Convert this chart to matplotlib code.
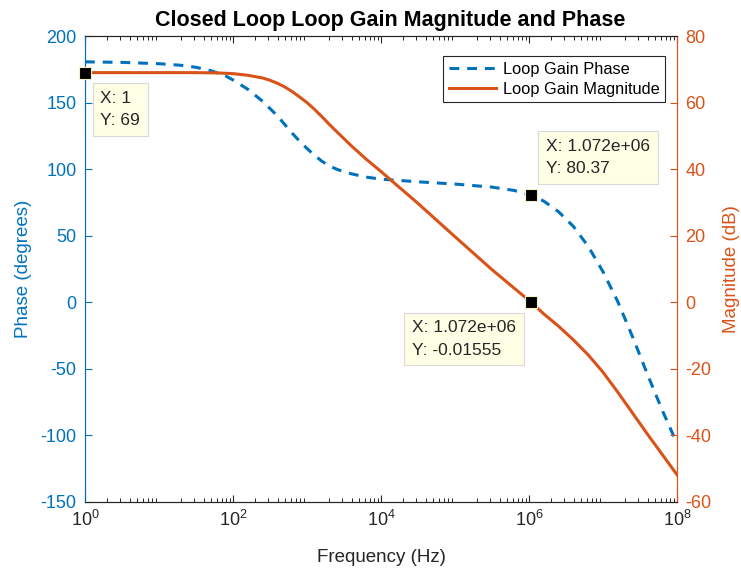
import numpy as np
import matplotlib
matplotlib.use("Agg")
import matplotlib.pyplot as plt

plt.rcParams['font.family'] = ['Liberation Sans', 'DejaVu Sans']
plt.rcParams['mathtext.fontset'] = 'custom'
plt.rcParams['mathtext.rm'] = 'Liberation Sans'
plt.rcParams['mathtext.it'] = 'Liberation Sans'
plt.rcParams['axes.unicode_minus'] = False

# log10(frequency in Hz) and loop gain phase in degrees
phase_logf = [0.0, 0.5, 1.0, 1.3, 1.5, 1.7, 1.8, 1.9, 2.0, 2.1, 2.2, 2.3, 2.4, 2.5,
              2.6, 2.7, 2.8, 2.9, 3.0, 3.1, 3.2, 3.3, 3.4, 3.5, 3.6, 3.8, 4.0,
              4.5, 5.0, 5.5, 5.8, 6.03, 6.2, 6.4, 6.6, 6.8, 7.0, 7.2, 7.4, 7.6,
              7.8, 8.0]
phase_deg = [180.6, 180.2, 179.2, 178.0, 176.5, 174.0, 172.0, 170.0, 167.0, 163.5,
             160.0, 155.5, 151.0, 145.5, 140.0, 133.5, 127.0, 121.0, 115.5, 110.5,
             106.0, 102.5, 100.0, 98.0, 96.5, 94.0, 92.5,
             90.5, 88.8, 86.5, 84.0, 80.37, 76.0, 68.0, 57.0, 42.0, 23.0, 0.5,
             -26.0, -54.0, -81.0, -106.0]

# log10(frequency in Hz) and loop gain magnitude in dB
mag_logf = [0.0, 0.5, 1.0, 1.5, 1.8, 2.0, 2.2, 2.4, 2.5, 2.6, 2.7, 2.8, 2.9, 3.0,
            3.1, 3.2, 3.3, 3.4, 3.6, 3.8, 4.0, 4.5, 5.0, 5.5, 6.03, 6.2, 6.4,
            6.6, 6.8, 7.0, 7.2, 7.4, 7.6, 7.8, 8.0]
mag_db = [69.0, 69.0, 69.0, 69.0, 68.9, 68.7, 68.2, 67.4, 66.7, 65.8, 64.7, 63.3,
          61.7, 60.0, 58.0, 55.8, 53.5, 51.3, 47.0, 43.0, 39.3, 29.7, 19.7, 9.8,
          -0.01555, -3.5, -7.2, -11.3, -15.8, -21.0, -27.0, -33.3, -39.6, -45.7,
          -51.8]

# data tips: (frequency, value)
tip_phase = (1.072e6, 80.37)
tip_mag_hi = (1, 69)
tip_mag_cross = (1.072e6, -0.01555)

blue = '#0072BD'
orange = '#D95319'
dark = '#262626'

fig = plt.figure(figsize=(7.41, 5.69), dpi=100)
ax = fig.add_axes([0.1147, 0.1178, 0.7989, 0.8189])
ax2 = ax.twinx()

l1, = ax.semilogx(10 ** np.array(phase_logf), phase_deg, color=blue, lw=2.2,
                  ls=(0, (3.2, 2.6)))
l2, = ax2.semilogx(10 ** np.array(mag_logf), mag_db, color=orange, lw=2.2)

ax.set_xlim(1, 1e8)
ax.set_ylim(-150, 200)
ax2.set_ylim(-60, 80)
ax.set_yticks(np.arange(-150, 201, 50))
ax2.set_yticks(np.arange(-60, 81, 20))
ax.set_xticks([1, 1e2, 1e4, 1e6, 1e8])

ax.tick_params(axis='both', which='both', direction='in', top=True, labelsize=13)
ax.tick_params(axis='x', colors=dark, pad=6)
ax.tick_params(axis='y', colors=blue, length=5, pad=6)
ax2.tick_params(axis='y', colors=orange, direction='in', length=5, pad=6,
                labelsize=13)
ax.tick_params(axis='x', which='major', length=5)
ax.tick_params(axis='x', which='minor', length=3)

for a in (ax, ax2):
    a.spines['top'].set_color(dark)
    a.spines['bottom'].set_color(dark)
    a.spines['left'].set_color(blue)
    a.spines['right'].set_color(orange)

ax.set_xlabel('Frequency (Hz)', fontsize=13.5, color=dark)
ax.set_ylabel('Phase (degrees)', fontsize=13.5, color=blue)
ax2.set_ylabel('Magnitude (dB)', fontsize=13.5, color=orange)
ax.xaxis.set_label_coords(0.5, -0.1)
ax.yaxis.set_label_coords(-0.09, 0.5)
ax2.yaxis.set_label_coords(1.077, 0.5)
ax.set_title('Closed Loop Loop Gain Magnitude and Phase', fontsize=15.5,
             fontweight='bold', color='black', pad=7, x=0.515)

leg = ax2.legend([l1, l2], ['Loop Gain Phase', 'Loop Gain Magnitude'],
                 loc='upper right', bbox_to_anchor=(0.98, 0.957), fontsize=11.8,
                 fancybox=False, edgecolor=dark, framealpha=1, handlelength=2.9,
                 borderpad=0.35, labelspacing=0.3, handletextpad=0.4,
                 borderaxespad=0)
leg.get_frame().set_linewidth(0.8)


def tip(xy, trans, text, offset, ha, va):
    ax2.plot(xy[0], xy[1], marker='s', ms=8.5, color='black', mec='#F4F0C8',
             mew=0.8, transform=trans, zorder=6, clip_on=False)
    ax2.annotate(text, xy=xy, xycoords=trans, xytext=offset,
                 textcoords='offset pixels', ha=ha, va=va, fontsize=12.5,
                 multialignment='left', color=dark, linespacing=1.6, zorder=7,
                 bbox=dict(boxstyle='square,pad=0.45', fc='#FFFFE6',
                           ec='#D9D9D9', lw=0.8))


tip(tip_mag_hi, ax2.transData, 'X: 1\nY: 69', (15.5, -18), 'left', 'top')
tip(tip_phase, ax.transData, 'X: 1.072e+06\nY: 80.37', (14.5, 19.5), 'left', 'bottom')
tip(tip_mag_cross, ax2.transData, 'X: 1.072e+06\nY: -0.01555', (-15.5, -18),
    'right', 'top')

fig.savefig('out.png', dpi=100)
